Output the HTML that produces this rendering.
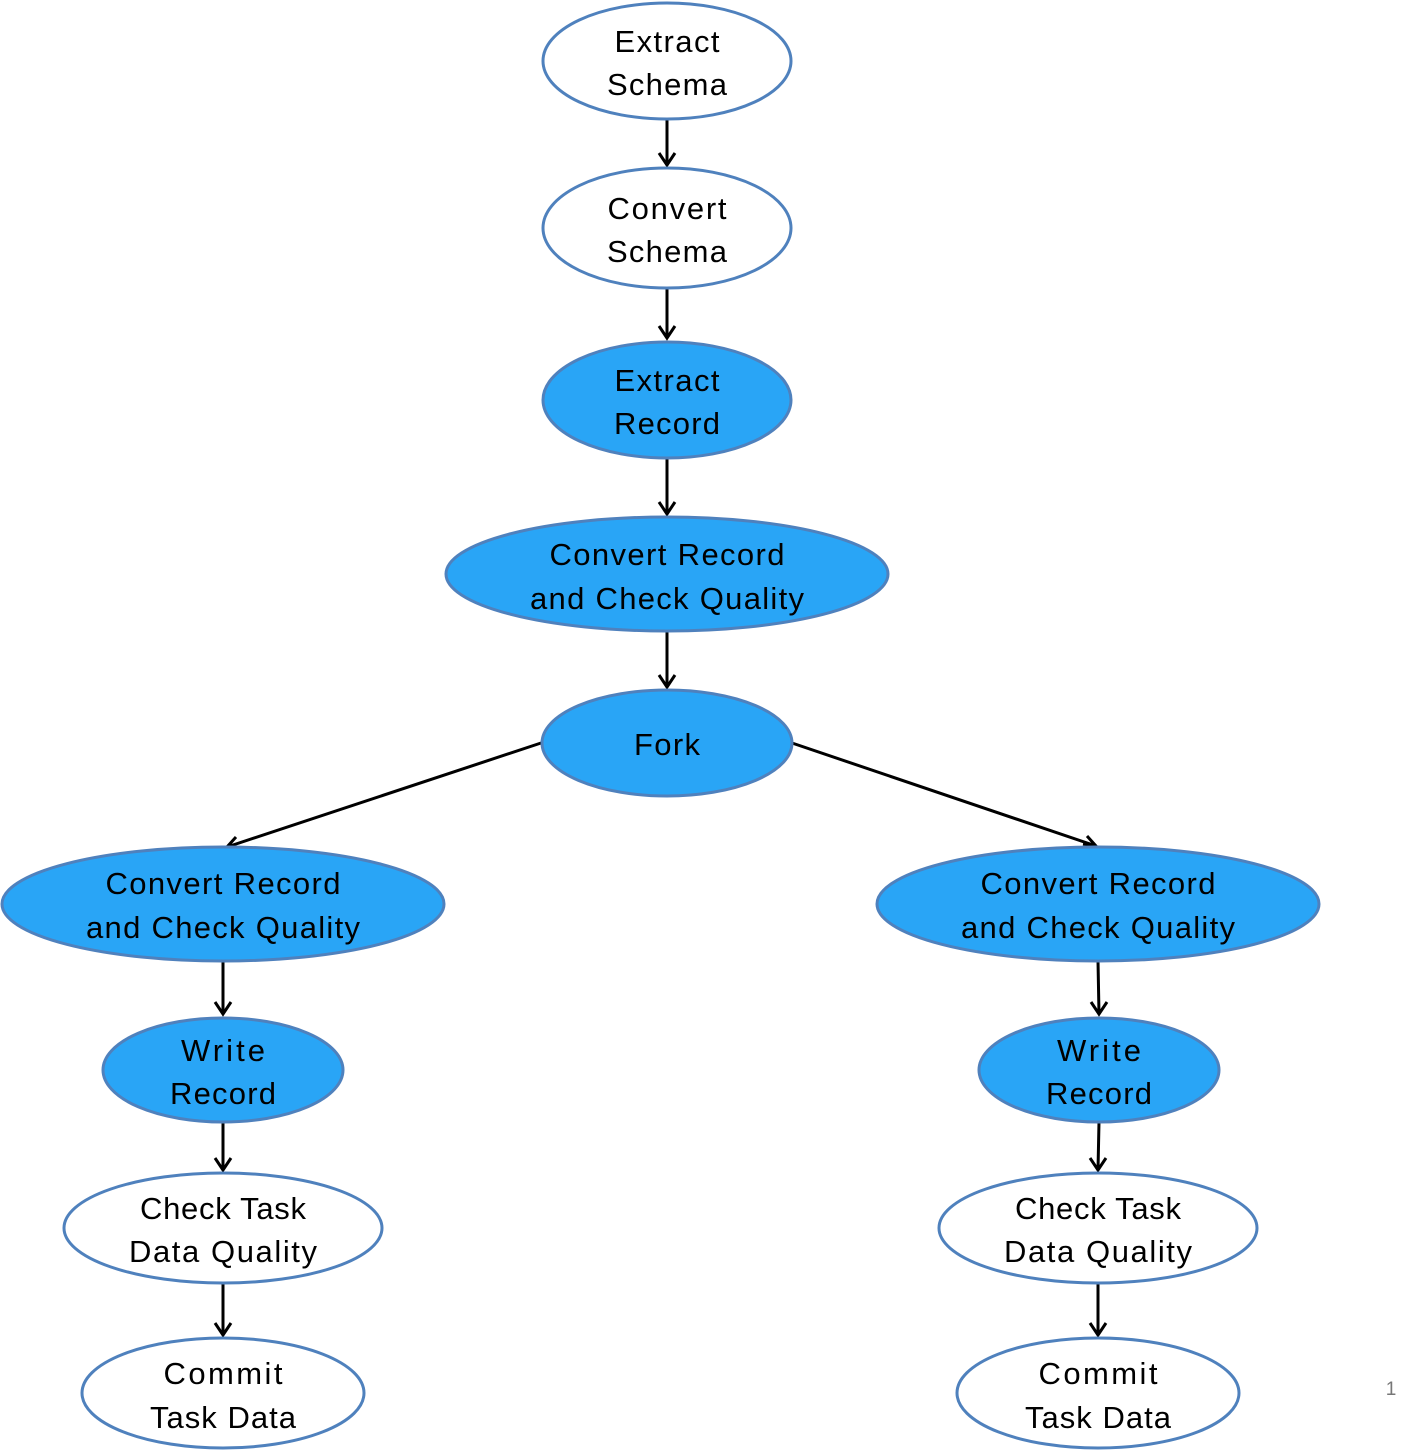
<!DOCTYPE html>
<html><head><meta charset="utf-8"><style>
html,body{margin:0;padding:0;background:#fff;}
svg{display:block}
text{font-family:"Liberation Sans",sans-serif;font-size:31px;fill:#000;text-anchor:middle}
.w{fill:#fff;stroke:#4f81bd;stroke-width:3}
.b{fill:#29a5f6;stroke:#4f81bd;stroke-width:3}
.l{stroke:#000;stroke-width:3;fill:none}
</style></head><body>
<svg width="1413" height="1453" viewBox="0 0 1413 1453" xmlns="http://www.w3.org/2000/svg">
<g class="l">
<path d="M667 119 V165 M659 153 L667 165 L675 153"/>
<path d="M667 288 V338 M659 326 L667 338 L675 326"/>
<path d="M667 458 V514 M659 502 L667 514 L675 502"/>
<path d="M667 631 V687 M659 675 L667 687 L675 675"/>
<path d="M541 743 L227 847 M236 837 L227 847 L240 849"/>
<path d="M792 743 L1096 846 M1083 844 L1096 846 L1087 836"/>
<path d="M223 961 V1014 M215 1002 L223 1014 L231 1002"/>
<path d="M1098 961 L1099 1014 M1091 1002 L1099 1014 L1107 1002"/>
<path d="M223 1122 V1170 M215 1158 L223 1170 L231 1158"/>
<path d="M1099 1122 L1098 1170 M1090 1158 L1098 1170 L1106 1158"/>
<path d="M223 1283 V1335 M215 1323 L223 1335 L231 1323"/>
<path d="M1098 1283 V1335 M1090 1323 L1098 1335 L1106 1323"/>
</g>
<ellipse class="w" cx="667" cy="61" rx="124" ry="58"/>
<text x="667" y="52" textLength="105">Extract</text><text x="667" y="95" textLength="120">Schema</text>
<ellipse class="w" cx="667" cy="228" rx="124" ry="60"/>
<text x="667" y="219" textLength="119">Convert</text><text x="667" y="262" textLength="120">Schema</text>
<ellipse class="b" cx="667" cy="400" rx="124" ry="58"/>
<text x="667" y="391" textLength="105">Extract</text><text x="667" y="434" textLength="106">Record</text>
<ellipse class="b" cx="667" cy="574" rx="221" ry="57"/>
<text x="667" y="565" textLength="235">Convert Record</text><text x="667" y="609" textLength="274">and Check Quality</text>
<ellipse class="b" cx="667" cy="743" rx="125" ry="53"/>
<text x="667" y="755" textLength="66">Fork</text>

<ellipse class="b" cx="223" cy="904" rx="221" ry="57"/>
<text x="223" y="894" textLength="235">Convert Record</text><text x="223" y="938" textLength="274">and Check Quality</text>
<ellipse class="b" cx="1098" cy="904" rx="221" ry="57"/>
<text x="1098" y="894" textLength="235">Convert Record</text><text x="1098" y="938" textLength="274">and Check Quality</text>

<ellipse class="b" cx="223" cy="1070" rx="120" ry="52"/>
<text x="223" y="1061" textLength="84">Write</text><text x="223" y="1104" textLength="106">Record</text>
<ellipse class="b" cx="1099" cy="1070" rx="120" ry="52"/>
<text x="1099" y="1061" textLength="84">Write</text><text x="1099" y="1104" textLength="106">Record</text>

<ellipse class="w" cx="223" cy="1228" rx="159" ry="55"/>
<text x="223" y="1219" textLength="166">Check Task</text><text x="223" y="1262" textLength="188">Data Quality</text>
<ellipse class="w" cx="1098" cy="1228" rx="159" ry="55"/>
<text x="1098" y="1219" textLength="166">Check Task</text><text x="1098" y="1262" textLength="188">Data Quality</text>

<ellipse class="w" cx="223" cy="1393" rx="141" ry="55"/>
<text x="223" y="1384" textLength="119">Commit</text><text x="223" y="1428" textLength="146">Task Data</text>
<ellipse class="w" cx="1098" cy="1393" rx="141" ry="55"/>
<text x="1098" y="1384" textLength="119">Commit</text><text x="1098" y="1428" textLength="146">Task Data</text>

<text x="1391" y="1395" style="font-size:19px;fill:#777">1</text>
</svg>
</body></html>
